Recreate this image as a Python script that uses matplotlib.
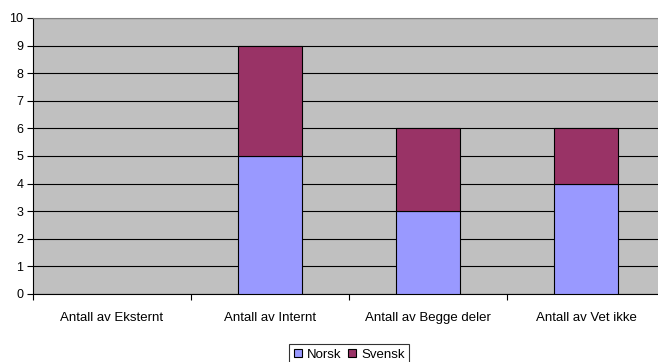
import matplotlib.pyplot as plt
import numpy as np

plt.rcParams['font.family'] = ['Liberation Sans', 'DejaVu Sans']

categories = ["Antall av Eksternt", "Antall av Internt", "Antall av Begge deler", "Antall av Vet ikke"]
norsk = [0, 5, 3, 4]
svensk = [0, 4, 3, 2]

fig = plt.figure(figsize=(6.58, 3.62), dpi=100)
ax = fig.add_axes([33 / 658, 1 - 294 / 362, 632 / 658, 276 / 362])
ax.set_facecolor('#C0C0C0')

x = np.arange(len(categories))
# empty categories get no outline
lw1 = [0.8 if v > 0 else 0 for v in norsk]
lw2 = [0.8 if v > 0 else 0 for v in svensk]
b1 = ax.bar(x, norsk, width=0.4, color='#9999FF', edgecolor='black', linewidth=lw1, label='Norsk', zorder=3)
b2 = ax.bar(x, svensk, width=0.4, bottom=norsk, color='#993366', edgecolor='black', linewidth=lw2, label='Svensk', zorder=3)

ax.set_xlim(-0.5, len(categories) - 0.5)
ax.set_ylim(0, 10)
ax.set_yticks(range(0, 11))
ax.yaxis.grid(True, color='black', linewidth=0.8, zorder=1)
ax.set_axisbelow(True)

# category names centred, tick marks at the category boundaries
ax.set_xticks(x)
ax.set_xticklabels(categories, fontsize=9.5)
ax.tick_params(axis='x', which='major', length=0, pad=13)
ax.set_xticks(np.arange(-0.5, len(categories)), minor=True)
ax.tick_params(axis='x', which='minor', length=4, width=0.8, color='black')
ax.tick_params(axis='y', length=4, width=0.8, labelsize=9, pad=3)

ax.spines['top'].set_color('#808080')
ax.spines['right'].set_visible(False)
for s in ['left', 'bottom']:
    ax.spines[s].set_color('black')
    ax.spines[s].set_linewidth(0.8)

leg = fig.legend(handles=[b1[1], b2[1]], labels=['Norsk', 'Svensk'], loc='upper center',
                 bbox_to_anchor=(349 / 658, 1 - 344 / 362), ncol=2,
                 fontsize=9.5, frameon=True, fancybox=False, edgecolor='black',
                 handlelength=0.65, handleheight=0.65, handletextpad=0.35, columnspacing=0.5,
                 borderpad=0.35, borderaxespad=0)
leg.get_frame().set_linewidth(0.8)

fig.savefig('out.png', dpi=100)
